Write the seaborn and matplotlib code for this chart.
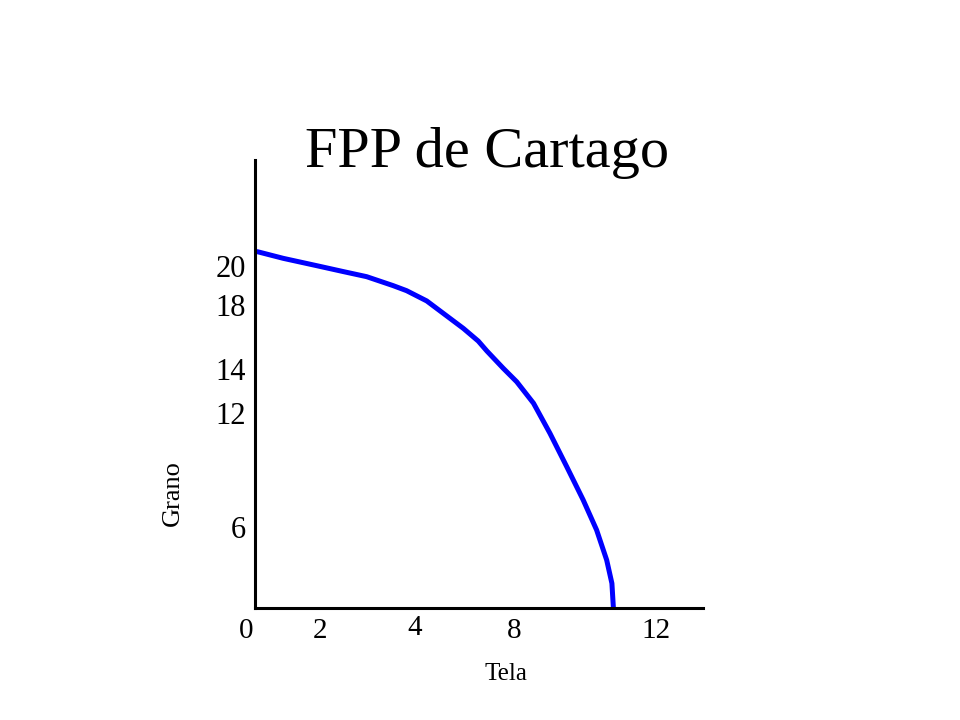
import numpy as np
import pandas as pd
import seaborn as sns
import matplotlib
matplotlib.use("Agg")
from matplotlib import pyplot as plt
from matplotlib.transforms import ScaledTranslation

# production possibility frontier (x: cloth, y: grain)
tela = [0.06, 0.76, 1.65, 2.37, 2.99, 3.70, 4.06, 4.60, 5.04, 5.58, 5.98, 6.21,
        6.65, 7.01, 7.46, 7.90, 8.35, 8.79, 9.15, 9.42, 9.56, 9.60]
grano = [19.09, 18.73, 18.34, 18.02, 17.75, 17.27, 17.00, 16.45, 15.79, 14.98, 14.30, 13.77,
         12.84, 12.12, 10.97, 9.36, 7.57, 5.79, 4.18, 2.57, 1.32, 0.0]

# the slide's tick labels sit at uneven places
xtick_labels = ["0", "2", "4", "8", "12"]
xtick_pos = [-0.24, 1.74, 4.29, 6.94, 10.74]
ytick_labels = ["20", "18", "14", "12", "6"]
ytick_pos = [18.32, 16.23, 12.80, 10.45, 4.34]

df = pd.DataFrame({"Tela": tela, "Grano": grano})

sns.set_theme(style="white")
plt.rcParams["font.family"] = ["Liberation Serif", "DejaVu Serif"]

fig = plt.figure(figsize=(9.6, 7.2), dpi=100)
ax = fig.add_axes([0.24618, 0.15556, 0.48611, 0.62222])

sns.lineplot(data=df, x="Tela", y="Grano", sort=False, estimator=None,
             color="#0000ff", linewidth=3.6, solid_capstyle="round",
             solid_joinstyle="round", ax=ax)

ax.set_xlim(-0.5, 12)
ax.set_ylim(0, 24)

# only the two axis lines, meeting at the origin
for s in ["top", "right"]:
    ax.spines[s].set_visible(False)
ax.spines["left"].set_position(("data", 0))
ax.spines["left"].set_bounds(0, 24)
ax.spines["bottom"].set_bounds(0, 12)
for s in ["left", "bottom"]:
    ax.spines[s].set_color("black")
    ax.spines[s].set_linewidth(2.2)

ax.set_xticks(xtick_pos)
ax.set_xticklabels(xtick_labels, fontsize=21)
ax.set_yticks(ytick_pos)
ax.set_yticklabels(ytick_labels, fontsize=22)
ax.tick_params(axis="both", length=0, colors="black")
ax.tick_params(axis="x", pad=7.5)
ax.tick_params(axis="y", pad=6.5)

# the "4" sits a little higher than the others
lab4 = ax.get_xticklabels()[2]
lab4.set_transform(lab4.get_transform() + ScaledTranslation(0, 0.03, fig.dpi_scale_trans))

ax.set_xlabel("Tela", fontsize=18, va="baseline", color="black")
ax.xaxis.set_label_coords(0.578, -0.161)
ax.set_ylabel("Grano", fontsize=19, va="center", color="black")
ax.yaxis.set_label_coords(-0.136, 0.257)

ax.text(0.537, 0.984, "FPP de Cartago", transform=ax.transAxes,
        ha="center", va="baseline", fontsize=42, color="black")

fig.savefig("out.png", dpi=100, facecolor="white")
